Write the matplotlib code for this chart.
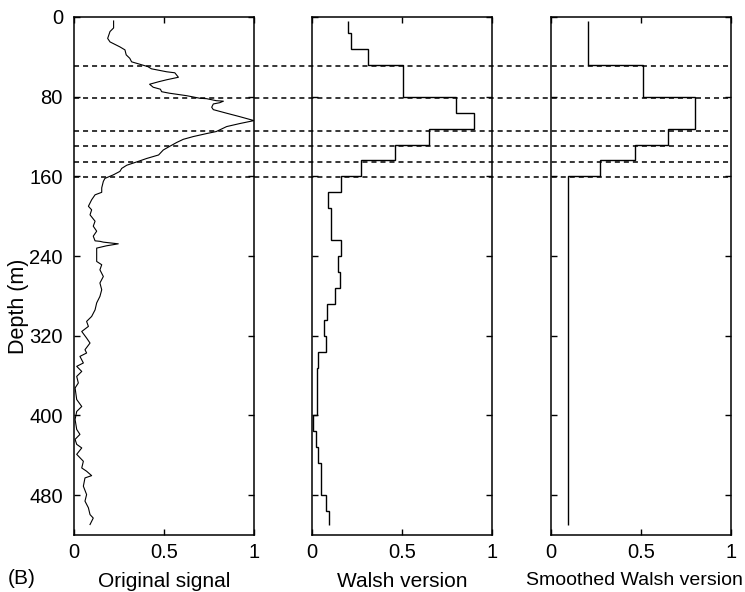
import numpy as np
import matplotlib
matplotlib.use("Agg")
import matplotlib.pyplot as plt
from matplotlib.lines import Line2D
from matplotlib.transforms import blended_transform_factory

plt.rcParams['font.family'] = ['Liberation Sans', 'DejaVu Sans']

# original signal (depth in m, normalised value)
orig_depth = [4, 11, 14.6, 21.5, 25, 30, 33, 38, 41.5, 45, 47.5, 49.8, 52, 55, 56, 60.5,
              63, 65, 67.5, 70.5, 72.5, 75, 76.5, 79, 81.6, 82, 84, 84.5, 86, 87.3, 90.6,
              93, 96.6, 100, 104, 107, 110, 115, 117, 120, 122.8, 126, 130, 133.5, 138.5,
              142, 145.5, 148.8, 152, 155, 158.5, 162, 165, 171.5, 176, 178.5, 183.5,
              190, 193.6, 198.6, 205, 210, 215, 220, 224.7, 225.2, 226, 227.7, 229.7, 232,
              245.4, 248.7, 253.8, 260.5, 267, 273.8, 280.5, 287, 294, 300.6, 305.6, 310.6,
              315.7, 322.3, 327.3, 334, 337.3, 340.7, 347.3, 350.7, 355.8, 360.8, 367.4,
              372.4, 384, 391, 396, 404, 414, 419, 424, 429, 432.6, 439, 446, 452.7, 456,
              460.4, 462.7, 471, 479.4, 486, 492.7, 499.5, 503, 509.5]
orig_value = [0.22, 0.22, 0.20, 0.187, 0.20, 0.255, 0.283, 0.29, 0.31, 0.32, 0.367, 0.41,
              0.43, 0.515, 0.56, 0.58, 0.515, 0.47, 0.42, 0.44, 0.48, 0.487, 0.53, 0.626,
              0.70, 0.737, 0.79, 0.83, 0.81, 0.774, 0.765, 0.774, 0.848, 0.92, 1.0, 0.92,
              0.848, 0.79, 0.737, 0.663, 0.607, 0.57, 0.53, 0.496, 0.47, 0.404, 0.348,
              0.293, 0.265, 0.255, 0.218, 0.172, 0.163, 0.154, 0.154, 0.117, 0.098,
              0.08, 0.098, 0.089, 0.117, 0.107, 0.126, 0.107, 0.117, 0.144, 0.163, 0.246,
              0.18, 0.126, 0.126, 0.154, 0.144, 0.163, 0.144, 0.154, 0.144, 0.126, 0.117,
              0.098, 0.07, 0.08, 0.043, 0.07, 0.089, 0.061, 0.07, 0.033, 0.052, 0.015,
              0.043, 0.015, 0.024, 0.006, 0.015, 0.043, 0.015, 0.006, 0.015, 0.033, 0.006,
              0.015, 0.043, 0.015, 0.052, 0.043, 0.07, 0.098, 0.061, 0.052, 0.07, 0.061,
              0.08, 0.089, 0.107, 0.089]

# Walsh version: 16 m blocks
walsh_edges = [4] + list(range(16, 497, 16)) + [510]
walsh_value = [0.20, 0.215, 0.31, 0.505, 0.505, 0.80, 0.90, 0.65, 0.46, 0.27, 0.16,
               0.09, 0.105, 0.105, 0.16, 0.143, 0.156, 0.128, 0.085, 0.068, 0.077,
               0.035, 0.026, 0.026, 0.026, 0.005, 0.02, 0.035, 0.05, 0.05, 0.077, 0.093]

# smoothed Walsh version
smooth_edges = [4, 48, 80, 112, 128, 144, 160, 510]
smooth_value = [0.204, 0.513, 0.80, 0.648, 0.467, 0.272, 0.093]

# dashed boundaries
bounds = [49, 81, 114, 129, 146, 161]

titles = ['Original signal', 'Walsh version', 'Smoothed Walsh version']

W, H = 745, 592
fig = plt.figure(figsize=(W / 100, H / 100), dpi=100)
lefts = [74, 312, 551]
axes = []
for l in lefts:
    ax = fig.add_axes([l / W, 57 / H, 180 / W, 518 / H])
    axes.append(ax)

axes[0].plot(orig_value, orig_depth, color='black', lw=0.8)
axes[1].stairs(walsh_value, walsh_edges, orientation='horizontal', baseline=None,
               color='black', lw=1.0)
axes[2].stairs(smooth_value, smooth_edges, orientation='horizontal', baseline=None,
               color='black', lw=1.0)

for i, ax in enumerate(axes):
    ax.set_xlim(0, 1)
    ax.set_ylim(520, 0)
    ax.set_xticks([0, 0.5, 1])
    ax.set_xticklabels(['0', '0.5', '1'])
    ax.set_yticks(range(0, 481, 80))
    ax.tick_params(direction='in', length=4, width=1, top=True, right=True,
                   labelsize=14.5, color='black')
    ax.tick_params(axis='x', pad=6)
    ax.tick_params(axis='y', pad=8)
    if i > 0:
        ax.set_yticklabels([])
    for s in ax.spines.values():
        s.set_linewidth(1.1)
    ax.set_xlabel(titles[i], fontsize=15 if i < 2 else 14, labelpad=7)

# last label is wide: nudge it left so it stays inside the figure
axes[2].xaxis.label.set_x(0.465)

fig.text(19 / W, 1 - 306 / H, 'Depth (m)', rotation=90, fontsize=15.5,
         ha='center', va='center')
fig.text(8 / W, 1 - 578 / H, '(B)', fontsize=15, ha='left', va='center')

trans = blended_transform_factory(fig.transFigure, axes[0].transData)
for b in bounds:
    fig.add_artist(Line2D([74 / W, 731 / W], [b, b], transform=trans, color='black',
                          lw=1.1, linestyle=(0, (3.3, 2.6)), zorder=5))

fig.savefig('out.png', dpi=100)
